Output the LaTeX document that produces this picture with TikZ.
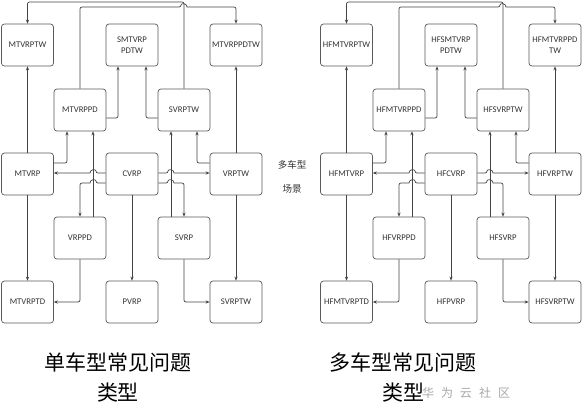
\documentclass[tikz,border=0pt]{standalone}
\usepackage{fontspec}
\setmainfont{Carlito}
\newfontfamily\cjk{Noto Sans CJK SC}
\usetikzlibrary{calc,arrows.meta}
\definecolor{boxc}{HTML}{5A5A5A}
\definecolor{linec}{HTML}{444444}
\definecolor{txtc}{HTML}{333333}
\definecolor{wmc}{HTML}{A8A8A8}
\newcommand\drawdiag[2]{%
\node[box] (#1A1) at ({#2+27.5},45) {\lA};
\node[box] (#1A2) at ({#2+132},45) {\lB};
\node[box] (#1A3) at ({#2+236},45) {\lC};
\node[box] (#1B1) at ({#2+80},110) {\lD};
\node[box] (#1B2) at ({#2+184},110) {\lE};
\node[box] (#1C1) at ({#2+27.5},174) {\lF};
\node[box] (#1C2) at ({#2+132},174) {\lG};
\node[box] (#1C3) at ({#2+236},174) {\lH};
\node[box] (#1D1) at ({#2+80},238) {\lI};
\node[box] (#1D2) at ({#2+184},238) {\lJ};
\node[box] (#1E1) at ({#2+27.5},302) {\lK};
\node[box] (#1E2) at ({#2+132},302) {\lL};
\node[box] (#1E3) at ({#2+236},302) {\lM};
\coordinate (#1ta) at ({#2+184},2);
\coordinate (#1tb) at ({#2+27.5},2);
\draw[conn] (#1B2.north) -- (#1ta) -- (#1tb) -- (#1A1.north);
\coordinate (#1ua) at ({#2+80},7);
\coordinate (#1ub) at ({#2+181},7);
\coordinate (#1uc) at ({#2+187},7);
\coordinate (#1ud) at ({#2+236},7);
\draw[conn] (#1B1.north) -- (#1ua) -- (#1ub) [sharp corners] .. controls +(0,-4) and +(0,-4) .. (#1uc) [rounded corners=2pt] -- (#1ud) -- (#1A3.north);
\draw[conn] ($(#1B1.east)+(0,8)$) -| ($(#1A2.south)+(-14,0)$);
\draw[conn] ($(#1B2.west)+(0,8)$) -| ($(#1A2.south)+(14,0)$);
\draw[conn] (#1C1.north) -- (#1A1.south);
\draw[conn] (#1C3.north) -- (#1A3.south);
\draw[conn] ($(#1C1.east)+(0,-11)$) -| ($(#1B1.south)+(-13,0)$);
\draw[conn] ($(#1D1.north)+(13,0)$) -- ($(#1B1.south)+(13,0)$);
\draw[conn] ($(#1C2.west)+(0,-1)$) -- ({#2+96},173) [sharp corners] .. controls +(0,-4) and +(0,-4) .. ({#2+90},173) -- ($(#1C1.east)+(0,-1)$);
\draw[conn] ($(#1C2.west)+(0,9)$) -- ({#2+96},183) [sharp corners] .. controls +(0,-4) and +(0,-4) .. ({#2+90},183) [rounded corners=2pt] -- ({#2+80},183) -- (#1D1.north);
\draw[conn] ($(#1C2.east)+(0,-1)$) -- ({#2+168},173) [sharp corners] .. controls +(0,-4) and +(0,-4) .. ({#2+174},173) -- ($(#1C3.west)+(0,-1)$);
\draw[conn] ($(#1C2.east)+(0,9)$) -- ({#2+168},183) [sharp corners] .. controls +(0,-4) and +(0,-4) .. ({#2+174},183) [rounded corners=2pt] -- ({#2+184},183) -- (#1D2.north);
\draw[conn] ($(#1D2.north)+(-13,0)$) -- ($(#1B2.south)+(-13,0)$);
\draw[conn] ($(#1C3.west)+(0,-11)$) -| ($(#1B2.south)+(13,0)$);
\draw[conn] (#1C2.south) -- (#1E2.north);
\draw[conn] (#1C1.south) -- (#1E1.north);
\draw[conn] (#1D1.south) |- (#1E1.east);
\draw[conn] (#1D2.south) |- (#1E3.west);
\draw[conn] (#1C3.south) -- (#1E3.north);
}
\begin{document}
\begin{tikzpicture}[x=1pt,y=-1pt,
  box/.style={draw=boxc, line width=0.7pt, rounded corners=3pt, minimum width=52pt, minimum height=42pt, inner sep=1pt, align=center, text=txtc, font=\fontsize{8.7}{11}\selectfont},
  conn/.style={draw=linec, line width=0.7pt, rounded corners=2pt, -{Stealth[length=4pt,width=3.2pt]}},
  title/.style={font=\cjk\fontsize{21}{30}\selectfont, align=center, text=black},
  mid/.style={font=\cjk\fontsize{9.5}{12}\selectfont, text=txtc}]
\useasboundingbox (0,0) rectangle (584,418);
\fill[white] (0,0) rectangle (584,418);
% left diagram
\def\lA{MTVRPTW}\def\lB{SMTVRP\\PDTW}\def\lC{MTVRPPDTW}
\def\lD{MTVRPPD}\def\lE{SVRPTW}
\def\lF{MTVRP}\def\lG{CVRP}\def\lH{VRPTW}
\def\lI{VRPPD}\def\lJ{SVRP}
\def\lK{MTVRPTD}\def\lL{PVRP}\def\lM{SVRPTW}
\drawdiag{L}{0}
% right diagram
\def\lA{HFMTVRPTW}\def\lB{HFSMTVRP\\PDTW}\def\lC{HFMTVRPPD\\TW}
\def\lD{HFMTVRPPD}\def\lE{HFSVRPTW}
\def\lF{HFMTVRP}\def\lG{HFCVRP}\def\lH{HFVRPTW}
\def\lI{HFVRPPD}\def\lJ{HFSVRP}
\def\lK{HFMTVRPTD}\def\lL{HFPVRP}\def\lM{HFSVRPTW}
\drawdiag{R}{319}
% middle labels
\node[mid] (M1) at (292,165) {多车型};
\node[mid] (M2) at (292,189) {场景};
% watermark
\node[text=wmc, font=\cjk\fontsize{12}{12}\selectfont] (W) at (466,393) {华\hspace{7pt}为\hspace{7pt}云\hspace{7pt}社\hspace{7pt}区};
% titles
\node[title] (T1) at (118,377) {单车型常见问题\\类型};
\node[title] (T2) at (403,377) {多车型常见问题\\类型};
\end{tikzpicture}
\end{document}
